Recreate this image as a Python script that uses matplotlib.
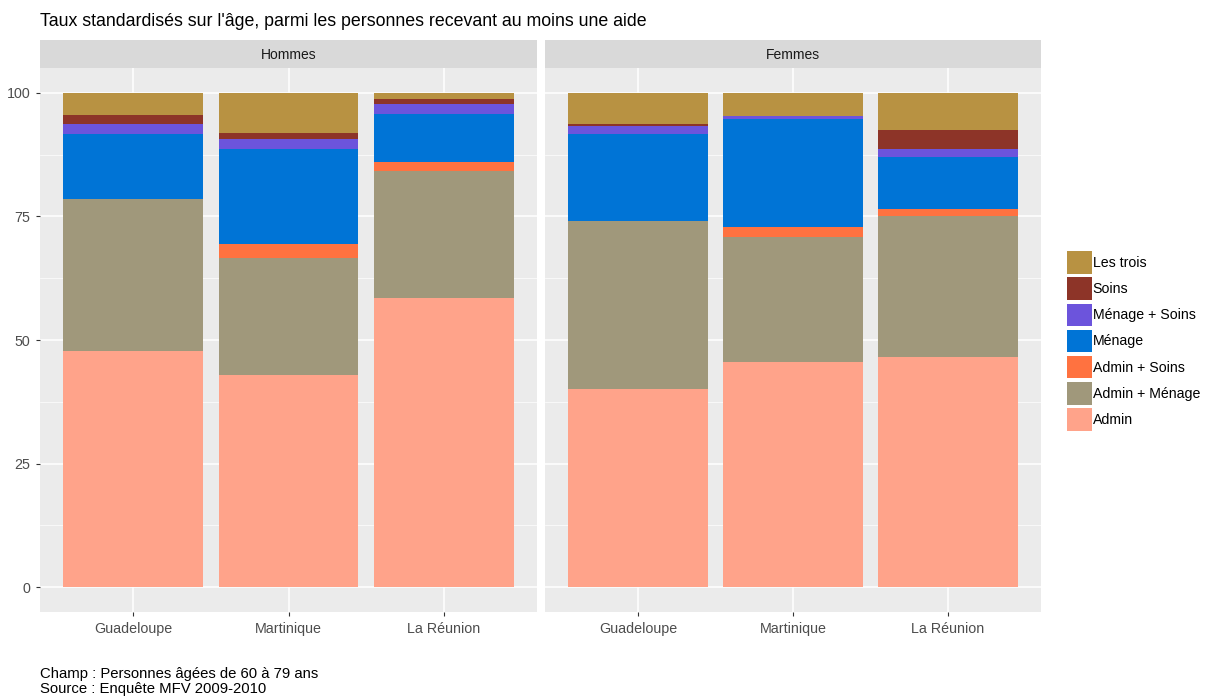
import numpy as np
import matplotlib.pyplot as plt
from matplotlib.patches import Patch

plt.rcParams['font.family'] = ['Liberation Sans', 'DejaVu Sans']

regions = ["Guadeloupe", "Martinique", "La Réunion"]
sexes = ["Hommes", "Femmes"]
categories = ["Admin", "Admin + Ménage", "Admin + Soins", "Ménage",
              "Ménage + Soins", "Soins", "Les trois"]
colors = ["#FFA38A", "#A0987B", "#FF7240", "#0074D6",
          "#6C54DC", "#8D3428", "#B89242"]

# values per category, order: Guadeloupe, Martinique, La Réunion
hommes = {
    "Admin":          [47.7, 43.0, 58.4],
    "Admin + Ménage": [30.9, 23.5, 25.7],
    "Admin + Soins":  [0.0, 3.0, 1.8],
    "Ménage":         [13.1, 19.2, 9.7],
    "Ménage + Soins": [2.0, 2.0, 2.2],
    "Soins":          [1.7, 1.2, 0.9],
    "Les trois":      [4.6, 8.1, 1.3],
}
femmes = {
    "Admin":          [40.0, 45.5, 46.5],
    "Admin + Ménage": [34.1, 25.4, 28.5],
    "Admin + Soins":  [0.0, 1.9, 1.5],
    "Ménage":         [17.6, 21.9, 10.6],
    "Ménage + Soins": [1.6, 0.5, 1.6],
    "Soins":          [0.3, 0.0, 3.7],
    "Les trois":      [6.4, 4.8, 7.6],
}

W, H = 1205, 696
fig = plt.figure(figsize=(W / 100, H / 100), dpi=100)

def px_axes(x0, y0, x1, y1):
    return fig.add_axes([x0 / W, 1 - y1 / H, (x1 - x0) / W, (y1 - y0) / H])

panels = [(40, 537, "Hommes", hommes), (545, 1041, "Femmes", femmes)]
x = np.arange(1, len(regions) + 1)

for i, (xa, xb, name, data) in enumerate(panels):
    ax = px_axes(xa, 68, xb, 612)
    ax.set_facecolor("#EBEBEB")
    bottom = np.zeros(len(regions))
    for cat, col in zip(categories, colors):
        vals = np.array(data[cat])
        ax.bar(x, vals, width=0.9, bottom=bottom, color=col, linewidth=0, zorder=3)
        bottom += vals
    ax.set_xlim(0.4, 3.6)
    ax.set_ylim(-5, 105)
    ax.set_xticks(x)
    ax.set_xticklabels(regions)
    ax.set_yticks([0, 25, 50, 75, 100])
    ax.set_yticks([12.5, 37.5, 62.5, 87.5], minor=True)
    ax.grid(True, which="major", color="white", linewidth=1.1, zorder=0)
    ax.grid(True, which="minor", axis="y", color="white", linewidth=0.5, zorder=0)
    ax.set_axisbelow(True)
    for s in ax.spines.values():
        s.set_visible(False)
    ax.tick_params(axis="both", which="major", length=3, color="#333333",
                   labelcolor="#4D4D4D", labelsize=10.3, width=0.8, pad=4)
    ax.tick_params(axis="both", which="minor", length=0)
    if i > 0:
        ax.tick_params(axis="y", which="major", length=0, labelleft=False)
    # strip
    sax = px_axes(xa, 40, xb, 68)
    sax.set_facecolor("#D9D9D9")
    sax.set_xticks([])
    sax.set_yticks([])
    for s in sax.spines.values():
        s.set_visible(False)
    sax.text(0.5, 0.45, name, ha="center", va="center", fontsize=10,
             color="#1A1A1A", transform=sax.transAxes)

fig.text(40 / W, 1 - 22 / H, "Taux standardisés sur l'âge, parmi les personnes recevant au moins une aide",
         ha="left", va="center", fontsize=12.8, color="black")

handles = [Patch(facecolor=c, edgecolor="none", label=l)
           for l, c in zip(categories[::-1], colors[::-1])]
leg = fig.legend(handles=handles, loc="center left", bbox_to_anchor=(1060 / W, 1 - 341 / H),
                 frameon=False, fontsize=10.2, handlelength=1.75, handleheight=2.05,
                 handletextpad=0.05, labelspacing=0.27, borderpad=0)

fig.text(40 / W, 1 - 674 / H, "Champ : Personnes âgées de 60 à 79 ans",
         ha="left", va="center", fontsize=10.7, color="black")
fig.text(40 / W, 1 - 689 / H, "Source : Enquête MFV 2009-2010",
         ha="left", va="center", fontsize=10.7, color="black")

fig.savefig("out.png", dpi=100)
